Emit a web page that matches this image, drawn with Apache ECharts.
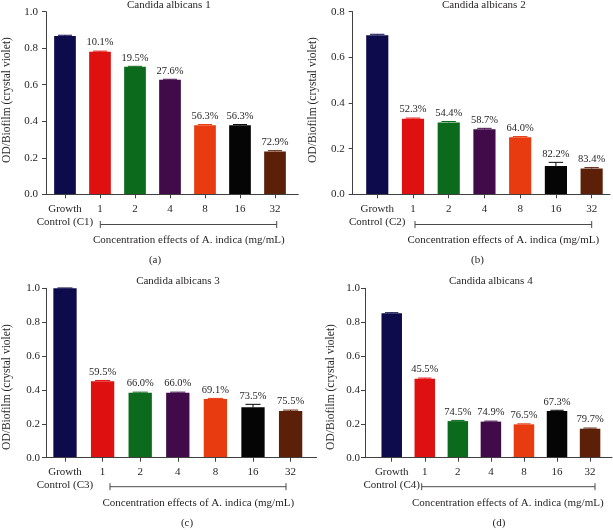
<!DOCTYPE html>
<html><head><meta charset="utf-8">
<script src="https://cdn.jsdelivr.net/npm/echarts@6/dist/echarts.min.js"></script>
<style>html,body{margin:0;padding:0;background:#fff}#c{width:613px;height:530px}</style>
</head><body><div id="c"></div><script>
// ---------- data ----------
const concentrations = ['1', '2', '4', '8', '16', '32'];
const controlLabels = ['Growth\nControl (C1)', 'Growth\nControl (C2)', 'Growth\nControl (C3)', 'Growth\nControl (C4)'];
const panelTitles = ['Candida albicans 1', 'Candida albicans 2', 'Candida albicans 3', 'Candida albicans 4'];
const panelTags = ['(a)', '(b)', '(c)', '(d)'];
const xAxisTitle = 'Concentration effects of A. indica (mg/mL)';
const yAxisTitle = 'OD/Biofilm (crystal violet)';

const valuesA = [0.867, 0.781, 0.698, 0.627, 0.378, 0.378, 0.235];
const errorsA = [0.004, 0.003, 0.003, 0.003, 0.004, 0.004, 0.004];
const labelsA = ['10.1%', '19.5%', '27.6%', '56.3%', '56.3%', '72.9%'];

const valuesB = [0.697, 0.331, 0.315, 0.285, 0.250, 0.124, 0.113];
const errorsB = [0.004, 0.003, 0.004, 0.004, 0.003, 0.016, 0.004];
const labelsB = ['52.3%', '54.4%', '58.7%', '64.0%', '82.2%', '83.4%'];

const valuesC = [1.0, 0.452, 0.384, 0.384, 0.346, 0.298, 0.275];
const errorsC = [0.002, 0.004, 0.003, 0.003, 0.004, 0.017, 0.006];
const labelsC = ['59.5%', '66.0%', '66.0%', '69.1%', '73.5%', '75.5%'];

const valuesD = [0.853, 0.466, 0.216, 0.213, 0.197, 0.276, 0.171];
const errorsD = [0.003, 0.004, 0.004, 0.003, 0.003, 0.004, 0.004];
const labelsD = ['45.5%', '74.5%', '74.9%', '76.5%', '67.3%', '79.7%'];

const yMaxes = [1.0, 0.8, 1.0, 1.0];
const yInterval = 0.2;

// ---------- style / layout ----------
const barColors = ['#0d0b4b', '#df1010', '#0b6a1b', '#410a48', '#e83b10', '#050505', '#5c2008'];
const FONT = '"Liberation Serif", "DejaVu Serif", serif';
const TXT = '#231f20';
const AX = '#404040';

const layout = [
  {axisX: 42, lineEnd: 298.3, bandL: 47.5, bandR: 292.5, top: 11.7, bottom: 194.3, lm: 8, nameGap: 33, namePad: [0, 0, 0, 6],
   title: [168.8, 5], conc: [188.8, 240], tag: [155, 260], bracket: [100.3, 276.7, 224.5]},
  {axisX: 352.7, lineEnd: 610, bandL: 359.4, bandR: 609.5, top: 11.7, bottom: 194.3, lm: 8, nameGap: 33.7, namePad: [0, 0, 0, 6],
   title: [483.8, 5], conc: [503.3, 240], tag: [477.5, 260], bracket: [415, 591.7, 224.5]},
  {axisX: 40, lineEnd: 316.7, bandL: 46.2, bandR: 309.4, top: 288.3, bottom: 457.7, lm: 6, nameGap: 33, namePad: [0, 28, 0, 0],
   title: [178, 281], conc: [198.3, 503.3], tag: [187, 523], bracket: [110, 286, 486.7]},
  {axisX: 365, lineEnd: 612, bandL: 375.2, bandR: 606.6, top: 288.3, bottom: 457.7, lm: 5, nameGap: 28, namePad: [0, 28, 0, 0],
   title: [490.8, 281], conc: [507.8, 503.3], tag: [499, 523], bracket: [421.7, 595, 486.7]}
];

const panels = [
  {values: valuesA, errors: errorsA, labels: labelsA},
  {values: valuesB, errors: errorsB, labels: labelsB},
  {values: valuesC, errors: errorsC, labels: labelsC},
  {values: valuesD, errors: errorsD, labels: labelsD}
];

const grid = [], xAxis = [], yAxis = [], series = [], graphic = [];

panels.forEach((p, i) => {
  const L = layout[i];
  const H = L.bottom - L.top;
  const gA = 2 * i, gB = 2 * i + 1;
  grid.push({left: L.bandL, top: L.top, width: L.bandR - L.bandL, height: H});
  grid.push({left: L.axisX, top: L.top, width: L.lineEnd - L.axisX, height: H});

  xAxis.push({
    type: 'category', gridIndex: gA, data: [controlLabels[i]].concat(concentrations),
    axisLine: {show: false},
    axisTick: {show: true, alignWithLabel: true, length: 4, lineStyle: {color: AX}},
    axisLabel: {interval: 0, margin: 8, verticalAlign: 'top', lineHeight: 13, fontFamily: FONT, fontSize: 11, color: TXT},
    splitLine: {show: false}
  });
  xAxis.push({
    type: 'value', gridIndex: gB, min: 0, max: 1, z: 5,
    axisLine: {show: true, lineStyle: {color: AX, width: 1}},
    axisTick: {show: false}, axisLabel: {show: false}, splitLine: {show: false}
  });
  yAxis.push({type: 'value', gridIndex: gA, min: 0, max: yMaxes[i], show: false, splitLine: {show: false}});
  yAxis.push({
    type: 'value', gridIndex: gB, min: 0, max: yMaxes[i], interval: yInterval, z: 5,
    name: yAxisTitle, nameLocation: 'middle', nameGap: L.nameGap, nameRotate: 90,
    nameTextStyle: {fontFamily: FONT, fontSize: 11.5, color: TXT, padding: L.namePad},
    axisLine: {show: true, lineStyle: {color: AX, width: 1}},
    axisTick: {show: true, length: 4, lineStyle: {color: AX}},
    axisLabel: {margin: L.lm, fontFamily: FONT, fontSize: 11, color: TXT, formatter: v => v.toFixed(1)},
    splitLine: {show: false}
  });

  series.push({
    type: 'bar', xAxisIndex: gA, yAxisIndex: gA, barWidth: '62%',
    data: p.values.map((v, k) => ({value: v, itemStyle: {color: barColors[k]}})),
    z: 2
  });
  const labs = [''].concat(p.labels);
  series.push({
    type: 'custom', xAxisIndex: gA, yAxisIndex: gA, z: 3,
    data: p.values.map((v, k) => [k, v, p.errors[k]]),
    renderItem: function (params, api) {
      const k = api.value(0), v = api.value(1), e = api.value(2);
      const base = api.coord([k, v]);
      const top = api.coord([k, v + e]);
      const bw = api.size([1, 0])[0] * 0.62;
      const cap = bw * 0.65;
      const col = barColors[k];
      const children = [
        {type: 'line', shape: {x1: base[0], y1: base[1], x2: top[0], y2: top[1]}, style: {stroke: col, lineWidth: 1}},
        {type: 'line', shape: {x1: top[0] - cap / 2, y1: top[1], x2: top[0] + cap / 2, y2: top[1]}, style: {stroke: col, lineWidth: 1}}
      ];
      const t = labs[params.dataIndex];
      if (t) {
        children.push({type: 'text', x: top[0], y: top[1] - 3,
          style: {text: t, font: '10.5px ' + FONT, fill: TXT, align: 'center', verticalAlign: 'bottom', textAlign: 'center', textVerticalAlign: 'bottom'}});
      }
      return {type: 'group', children: children};
    }
  });

  const txt = (s, pos, size) => ({type: 'text', x: pos[0], y: pos[1],
    style: {text: s, font: size + 'px ' + FONT, fill: TXT, align: 'center', verticalAlign: 'middle', textAlign: 'center', textVerticalAlign: 'middle'}});
  graphic.push(txt(panelTitles[i], L.title, 11));
  graphic.push(txt(xAxisTitle, L.conc, 11));
  graphic.push(txt(panelTags[i], L.tag, 11));
  const [bx1, bx2, by] = L.bracket;
  const ls = {stroke: '#4a4a4a', lineWidth: 1};
  graphic.push({type: 'line', shape: {x1: bx1, y1: by, x2: bx2, y2: by}, style: ls});
  graphic.push({type: 'line', shape: {x1: bx1, y1: by - 3.5, x2: bx1, y2: by + 3.5}, style: ls});
  graphic.push({type: 'line', shape: {x1: bx2, y1: by - 3.5, x2: bx2, y2: by + 3.5}, style: ls});
});

const chart = echarts.init(document.getElementById('c'), null, {renderer: 'canvas'});
chart.setOption({
  animation: false,
  backgroundColor: '#ffffff',
  grid: grid, xAxis: xAxis, yAxis: yAxis, series: series, graphic: graphic
});
</script></body></html>
